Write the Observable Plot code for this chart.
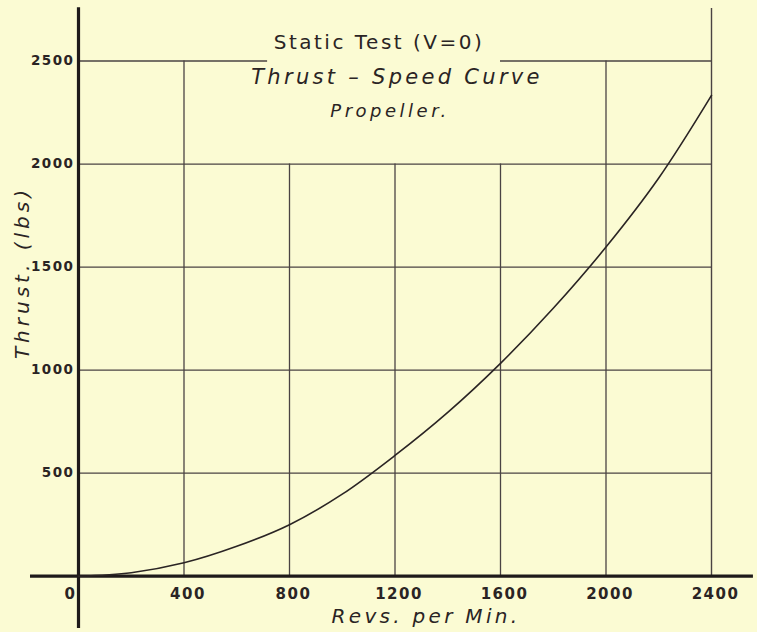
<!DOCTYPE html>
<html><head><meta charset="utf-8">
<script src="https://cdn.jsdelivr.net/npm/d3@7"></script>
<script src="https://cdn.jsdelivr.net/npm/@observablehq/plot@0.6"></script>
<style>
html,body{margin:0;padding:0;background:#fbfbd3;}
#chart svg{display:block;}
</style></head><body><div id="chart"></div>
<script>
// Curve (revolutions per minute -> thrust in lbs)
const rpm    = [0, 200, 400, 600, 800, 1000, 1200, 1400, 1600, 1800, 2000, 2200, 2400];
const thrust = [0, 17, 65, 145, 250, 398, 586, 795, 1033, 1300, 1597, 1932, 2333];

// Tick labels
const xTicks = [400, 800, 1200, 1600, 2000, 2400];
const xZero = [0];
const yTicks = [500, 1000, 1500, 2000, 2500];

// Grid lines
const gridYFull = [500, 1000, 1500, 2000];
const gridYTop = [2500];
const gridXTall = [400, 2000];
const gridXShort = [800, 1200, 1600];
const gridXEdge = [2400];

// Texts
const titleLines = ["Static Test (V=0)", "Thrust \u2013 Speed Curve", "Propeller."];
const xLabel = "Revs. per Min.";
const yLabel = "Thrust. (lbs)";

const curve = rpm.map((r, i) => ({rpm: r, thrust: thrust[i]}));

const ink = "#2a2424";
const gridInk = "#4a4343";
const font = "DejaVu Sans";

const chart = Plot.plot({
  width: 757,
  height: 632,
  marginLeft: 78,
  marginRight: 46,
  marginTop: 60.5,
  marginBottom: 56.3,
  style: {background: "#fbfbd3", color: ink},
  x: {domain: [0, 2400], axis: null},
  y: {domain: [0, 2500], axis: null},
  marks: [
    Plot.ruleY(gridYFull, {x1: 0, x2: 2400, stroke: gridInk, strokeWidth: 1.3}),
    Plot.ruleY(gridYTop, {x1: 0, x2: 717, stroke: gridInk, strokeWidth: 1.3}),
    Plot.ruleY(gridYTop, {x1: 1600, x2: 2400, stroke: gridInk, strokeWidth: 1.3}),
    Plot.ruleX(gridXTall, {y1: 0, y2: 2500, stroke: gridInk, strokeWidth: 1.3}),
    Plot.ruleX(gridXShort, {y1: 0, y2: 2000, stroke: gridInk, strokeWidth: 1.3}),
    Plot.ruleX(gridXEdge, {y1: 0, y2: 2755, stroke: gridInk, strokeWidth: 1.4}),
    Plot.ruleX([0], {y1: -254, y2: 2759, stroke: "#1e1a1a", strokeWidth: 3.2}),
    Plot.ruleY([0], {x1: -182, x2: 2559, stroke: "#1e1a1a", strokeWidth: 3.2}),
    Plot.line(curve, {x: "rpm", y: "thrust", curve: "catmull-rom", stroke: ink, strokeWidth: 1.6}),
    Plot.text(xTicks, {x: d => d, frameAnchor: "bottom", lineAnchor: "middle", dy: 18, dx: 4, text: d => String(d), fontFamily: font, fontWeight: "bold", fontSize: 15, fill: ink}),
    Plot.text(xZero, {x: d => d, frameAnchor: "bottom", lineAnchor: "middle", dy: 17.5, dx: -8, text: d => String(d), fontFamily: font, fontWeight: "bold", fontSize: 15, fill: ink}),
    Plot.text(yTicks, {y: d => d, frameAnchor: "left", dx: -4, textAnchor: "end", text: d => String(d), fontFamily: font, fontWeight: "bold", fontSize: 13.5, fill: ink}),
    Plot.text([titleLines[0]], {frameAnchor: "top", lineAnchor: "middle", dx: -16, dy: -18, text: d => d, fontFamily: font, fontSize: 20, fill: ink}),
    Plot.text([titleLines[1]], {frameAnchor: "top", lineAnchor: "middle", dx: 2, dy: 16, text: d => d, fontFamily: font, fontStyle: "italic", fontSize: 21, fill: ink}),
    Plot.text([titleLines[2]], {frameAnchor: "top", lineAnchor: "middle", dx: -5, dy: 50, text: d => d, fontFamily: font, fontStyle: "italic", fontSize: 18, fill: ink}),
    Plot.text([xLabel], {frameAnchor: "bottom", lineAnchor: "middle", dx: 31, dy: 40, text: d => d, fontFamily: font, fontStyle: "italic", fontSize: 20, fill: ink}),
    Plot.text([yLabel], {frameAnchor: "left", textAnchor: "middle", lineAnchor: "middle", dx: -56, dy: -46, rotate: -90, text: d => d, fontFamily: font, fontStyle: "italic", fontSize: 20, fill: ink})
  ]
});

// hand-lettered look: wide letter spacing per text
const spacing = new Map([
  [titleLines[0], 2.5], [titleLines[1], 3.3], [titleLines[2], 3.5],
  [xLabel, 3.3], [yLabel, 4]
]);
chart.querySelectorAll("text").forEach(t => {
  const s = t.textContent;
  if (spacing.has(s)) t.setAttribute("letter-spacing", spacing.get(s));
  else if (/^\d+$/.test(s)) t.setAttribute("letter-spacing", s.length > 1 && t.getAttribute("text-anchor") === "end" ? 0.5 : 1.5);
});
document.getElementById("chart").append(chart);
</script>
</body></html>
